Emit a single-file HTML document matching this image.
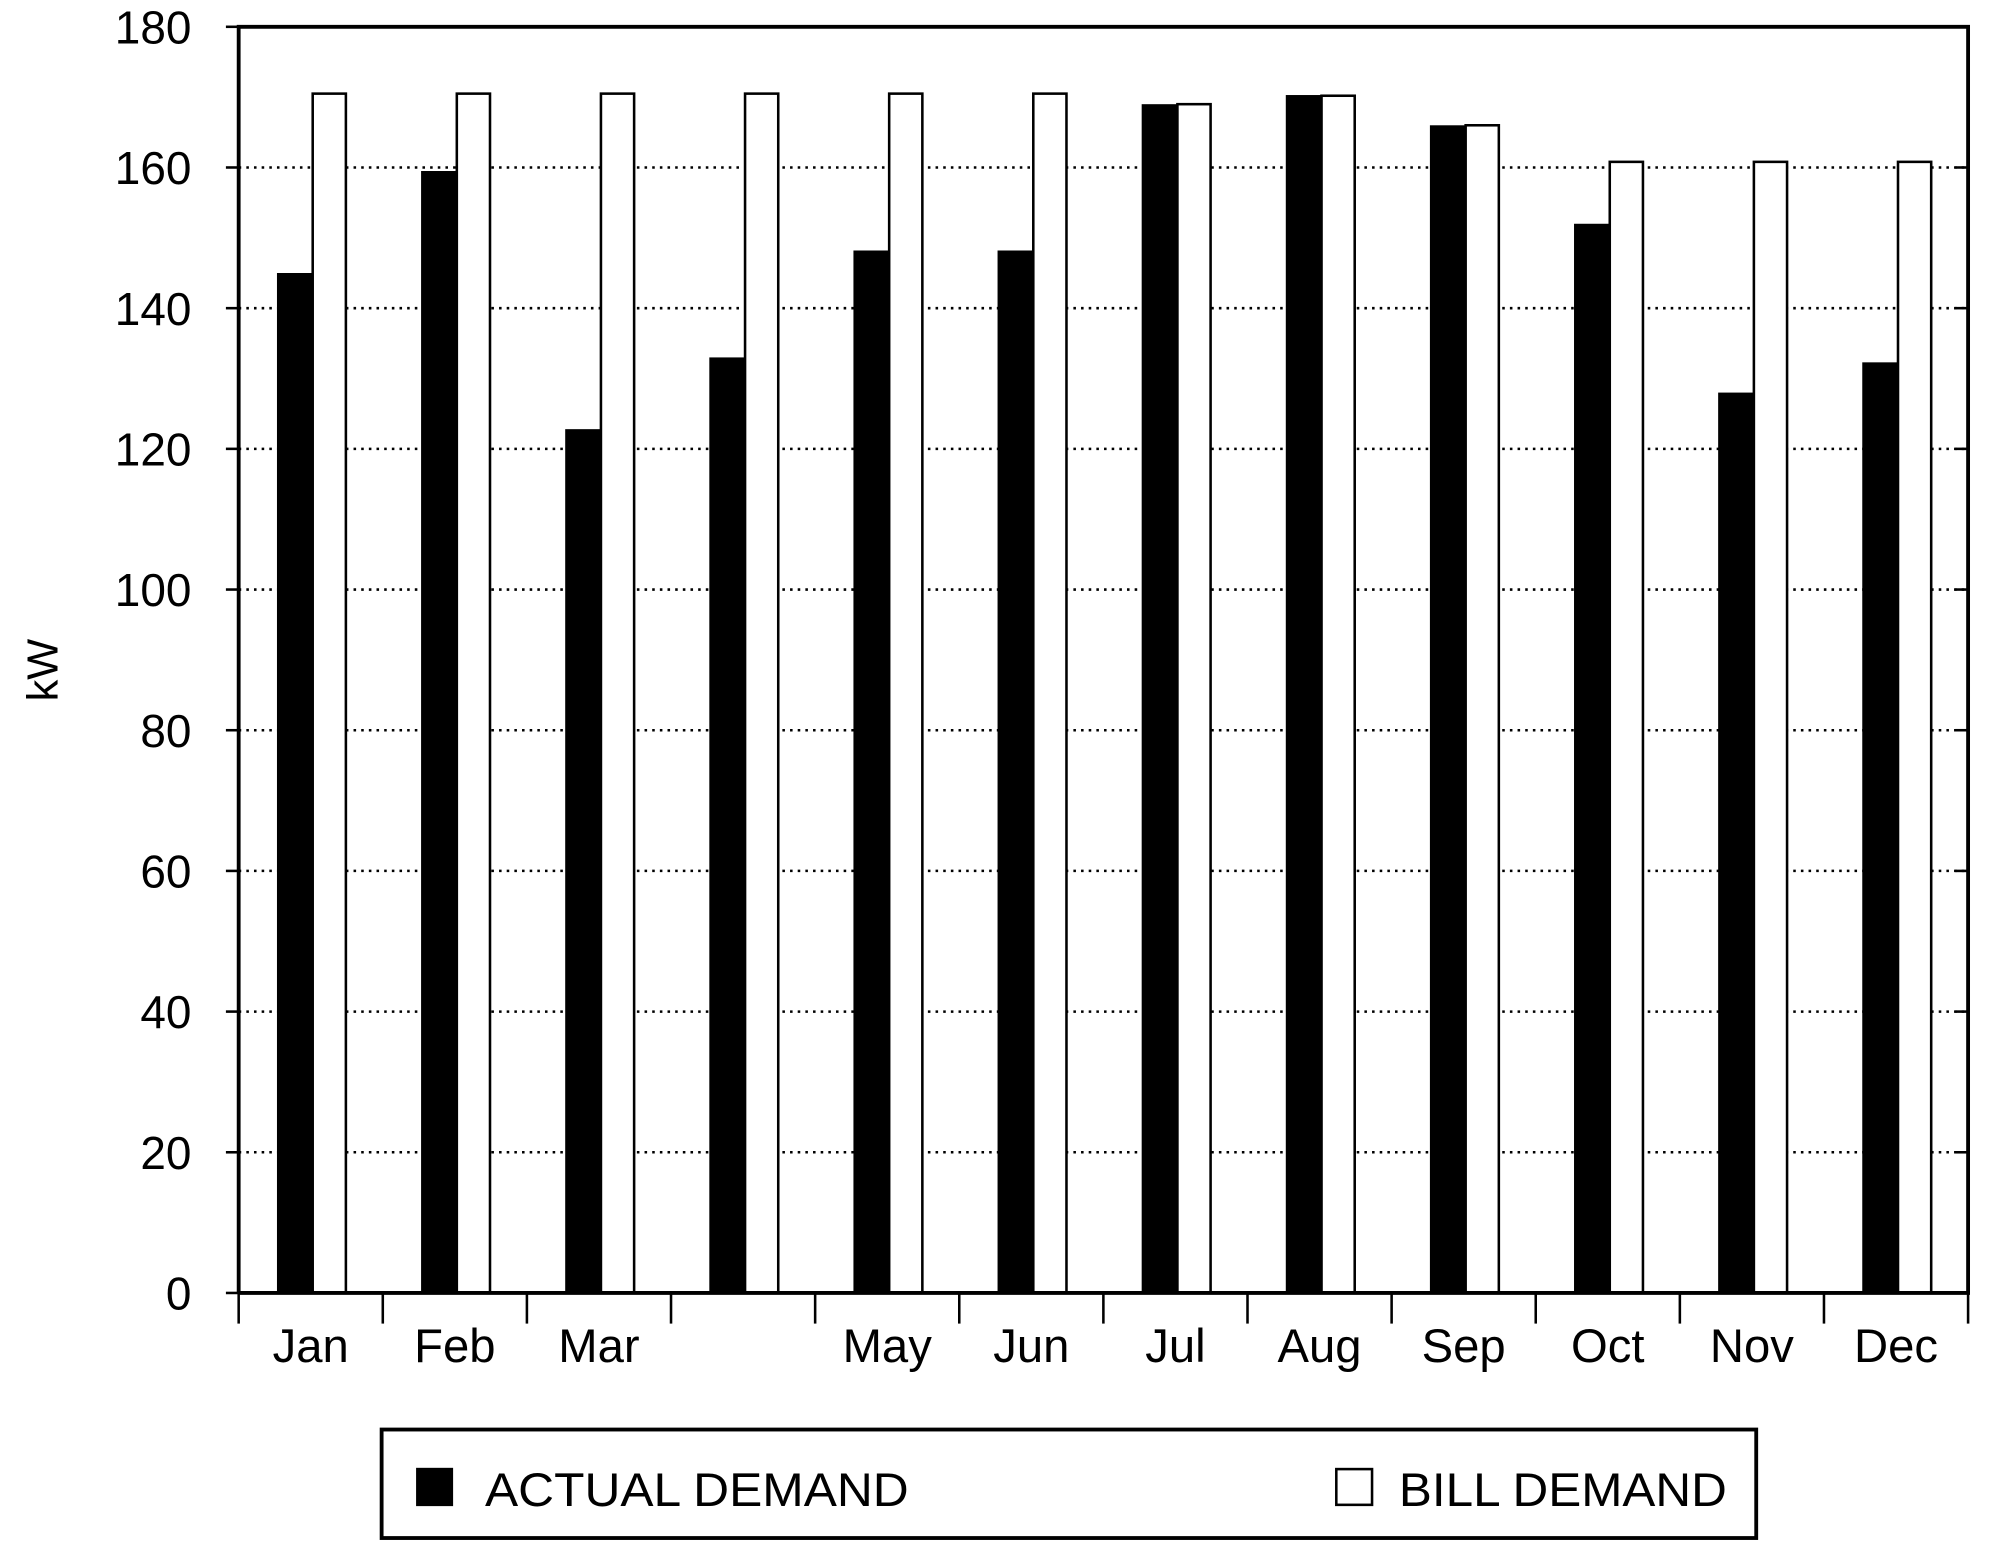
<!DOCTYPE html>
<html><head><meta charset="utf-8"><style>body{margin:0;background:#fff}svg{display:block}text{font-family:"Liberation Sans",sans-serif;fill:#000}</style></head>
<body>
<svg id="chart" width="2000" height="1561" viewBox="0 0 1567 1223" preserveAspectRatio="none" xmlns="http://www.w3.org/2000/svg">
<g id="grid"></g><g id="bars"></g><g id="axes"></g>
<text transform="translate(45,525) rotate(-90)" font-size="34" text-anchor="middle">kW</text>
<g>
<rect x="299" y="1120" width="1077" height="85" fill="#fff" stroke="#000" stroke-width="3"/>
<rect x="326" y="1150" width="29" height="30" fill="#000"/>
<text x="380" y="1180" font-size="37" textLength="332" lengthAdjust="spacingAndGlyphs">ACTUAL DEMAND</text>
<rect x="1047" y="1151" width="28" height="28" fill="#fff" stroke="#000" stroke-width="2"/>
<text x="1096" y="1180" font-size="37" textLength="257" lengthAdjust="spacingAndGlyphs">BILL DEMAND</text>
</g>
</svg>
<script>
const categories=["Jan","Feb","Mar","","May","Jun","Jul","Aug","Sep","Oct","Nov","Dec"];
const actualDemand=[145,159.5,122.8,133,148.2,148.2,169,170.3,166,152,128,132.3];
const billDemand=[170.5,170.5,170.5,170.5,170.5,170.5,169,170.2,166,160.8,160.8,160.8];
const yTicks=[0,20,40,60,80,100,120,140,160,180];
const NS="http://www.w3.org/2000/svg";
const L=187,R=1542,T=21,B=1013,yMax=180;
const cw=(R-L)/categories.length;
const y=v=>B-(v/yMax)*(B-T);
const xc=i=>L+i*cw;
function mk(tag,attrs,parent){const e=document.createElementNS(NS,tag);for(const k in attrs)e.setAttribute(k,attrs[k]);parent.appendChild(e);return e;}
const grid=document.getElementById('grid'),bars=document.getElementById('bars'),axes=document.getElementById('axes');
yTicks.forEach(t=>{
  if(t>0&&t<yMax){const g=mk('line',{x1:L,x2:R,y1:y(t),y2:y(t),stroke:'#000','stroke-width':2,'stroke-dasharray':'2,4'},grid);
  
  }
  const tk=mk('line',{x1:L-10,x2:L,y1:y(t),y2:y(t),stroke:'#000','stroke-width':2},axes);
  
  
  mk('line',{x1:R-10,x2:R,y1:y(t),y2:y(t),stroke:'#000','stroke-width':2},axes);
  const lb=mk('text',{x:L-37,y:y(t)+13,'font-size':36,'text-anchor':'end'},axes);lb.textContent=t;
  
  
});
categories.forEach((c,i)=>{
  const x0=xc(i);
  const a=mk('rect',{x:x0+30,y:y(actualDemand[i]),width:28,height:B-y(actualDemand[i]),fill:'#000'},bars);
  
  
  const b=mk('rect',{x:x0+58,y:y(billDemand[i]),width:26,height:B-y(billDemand[i]),fill:'#fff',stroke:'#000','stroke-width':2},bars);
  
  
  const tk=mk('line',{x1:x0,x2:x0,y1:B,y2:B+24,stroke:'#000','stroke-width':2},axes);
  
  
  const lb=mk('text',{x:x0+cw/2,y:B+54,'font-size':37,'text-anchor':'middle'},axes);lb.textContent=c;
  
  
});
mk('line',{x1:R,x2:R,y1:B,y2:B+24,stroke:'#000','stroke-width':2},axes);
const fr=mk('path',{d:`M${L},${B}V${T}H${R}V${B}H${L}`,fill:'none',stroke:'#000','stroke-width':3},axes);


</script>
</body></html>
